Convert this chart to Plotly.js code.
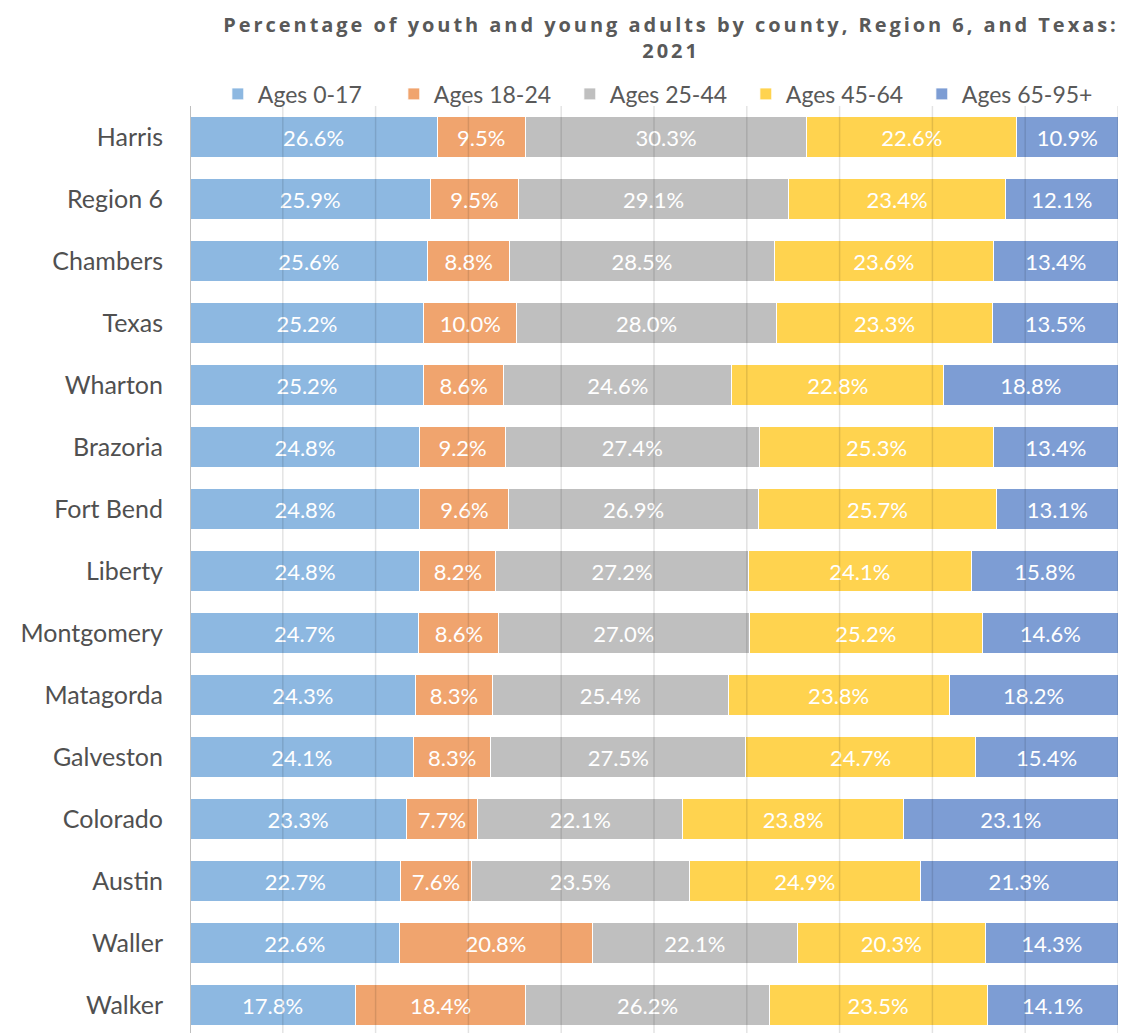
<!DOCTYPE html>
<html>
<head>
<meta charset="utf-8">
<script src="https://cdn.plot.ly/plotly-3.0.1.min.js"></script>
<style>
html,body{margin:0;padding:0;background:#fff;}
#chart{width:1124px;height:1034px;}
#chart .gtitle{letter-spacing:2.95px;}
</style>
</head>
<body>
<div id="chart"></div>
<script>
const categories = ["Harris","Region 6","Chambers","Texas","Wharton","Brazoria","Fort Bend","Liberty","Montgomery","Matagorda","Galveston","Colorado","Austin","Waller","Walker"];
const seriesNames = ["Ages 0-17","Ages 18-24","Ages 25-44","Ages 45-64","Ages 65-95+"];
const ages0to17  = [26.6,25.9,25.6,25.2,25.2,24.8,24.8,24.8,24.7,24.3,24.1,23.3,22.7,22.6,17.8];
const ages18to24 = [9.5,9.5,8.8,10.0,8.6,9.2,9.6,8.2,8.6,8.3,8.3,7.7,7.6,20.8,18.4];
const ages25to44 = [30.3,29.1,28.5,28.0,24.6,27.4,26.9,27.2,27.0,25.4,27.5,22.1,23.5,22.1,26.2];
const ages45to64 = [22.6,23.4,23.6,23.3,22.8,25.3,25.7,24.1,25.2,23.8,24.7,23.8,24.9,20.3,23.5];
const ages65plus = [10.9,12.1,13.4,13.5,18.8,13.4,13.1,15.8,14.6,18.2,15.4,23.1,21.3,14.3,14.1];
const gridTicks = [10,20,30,40,50,60,70,80,90,100];

const colors = ["#8DB8E1","#F0A46E","#BFBFBF","#FFD34F","#7D9DD4"];
const allSeries = [ages0to17, ages18to24, ages25to44, ages45to64, ages65plus];

const traces = allSeries.map((vals, i) => ({
  type: "bar",
  orientation: "h",
  name: seriesNames[i],
  y: categories,
  x: vals,
  text: vals.map(v => v.toFixed(1) + "%"),
  textposition: "inside",
  insidetextanchor: "middle",
  textangle: 0,
  textfont: {color: "#ffffff", size: 22, family: "Lato, 'Open Sans', sans-serif"},
  marker: {color: colors[i], line: {color: "#ffffff", width: 1}},
  hoverinfo: "skip"
}));

const shapes = gridTicks.map(t => ({
  type: "line", xref: "x", yref: "paper",
  x0: t, x1: t, y0: 0, y1: 1,
  layer: "above",
  line: {color: "rgba(0,0,0,0.11)", width: 1.5}
}));
shapes.push({
  type: "line", xref: "x", yref: "paper", x0: 0, x1: 0, y0: 0, y1: 1,
  layer: "above", line: {color: "#BFBFBF", width: 2}
});

const layout = {
  width: 1124, height: 1034,
  margin: {l: 190, r: 6, t: 106, b: 1, pad: 0},
  paper_bgcolor: "#ffffff", plot_bgcolor: "#ffffff",
  barmode: "stack",
  barnorm: "percent",
  bargap: 0.33,
  uniformtext: {mode: "show", minsize: 22},
  title: {
    text: "Percentage of youth and young adults by county, Region 6, and Texas:<br>2021",
    font: {family: "'Open Sans', sans-serif", size: 20, color: "#595959", weight: "bold"},
    x: 0.597, xanchor: "center", xref: "container",
    y: 0.969, yanchor: "middle", yref: "container"
  },
  showlegend: true,
  legend: {
    orientation: "h", x: 0.03, xanchor: "left", y: 1.013, yanchor: "middle",
    font: {family: "Lato, 'Open Sans', sans-serif", size: 23, color: "#595959"},
    entrywidth: 131, entrywidthmode: "pixels",
    traceorder: "normal", itemclick: false, bgcolor: "rgba(0,0,0,0)"
  },
  xaxis: {
    range: [0, 100], showgrid: false, zeroline: false, showticklabels: false,
    ticks: "", fixedrange: true
  },
  yaxis: {
    autorange: false, range: [14.45, -0.5], type: "category",
    showgrid: false, zeroline: false, ticks: "",
    ticklabelstandoff: 26,
    tickfont: {family: "Lato, 'Open Sans', sans-serif", size: 25, color: "#505050"},
    fixedrange: true
  },
  shapes: shapes
};

Plotly.newPlot("chart", traces, layout, {displayModeBar: false, staticPlot: true});
</script>
</body>
</html>
